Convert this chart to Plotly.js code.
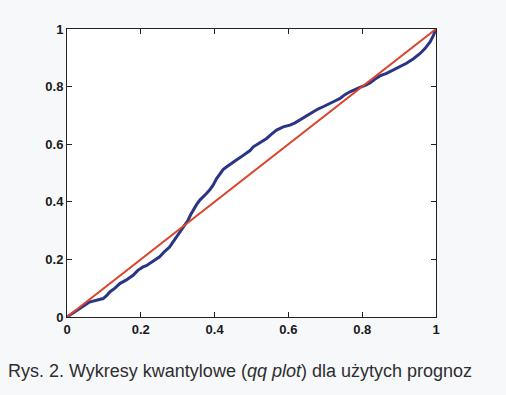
<!DOCTYPE html>
<html>
<head>
<meta charset="utf-8">
<script src="https://cdn.plot.ly/plotly-3.0.1.min.js"></script>
<style>html,body{margin:0;padding:0;background:#f7f8fa;}#chart{width:506px;height:395px;}</style>
</head>
<body>
<div id="chart"></div>
<script>
// Empirical quantiles (x) vs. model quantiles (y)
const qqX = [0, 0.015, 0.034, 0.048, 0.061, 0.080, 0.098, 0.108, 0.116, 0.130, 0.143, 0.160, 0.179, 0.192, 0.206, 0.215, 0.224, 0.238, 0.251, 0.265, 0.278, 0.288, 0.297, 0.306, 0.315, 0.322, 0.328, 0.335, 0.342, 0.351, 0.360, 0.369, 0.378, 0.387, 0.396, 0.405, 0.414, 0.423, 0.432, 0.445, 0.459, 0.472, 0.486, 0.496, 0.505, 0.523, 0.541, 0.555, 0.568, 0.586, 0.604, 0.618, 0.631, 0.649, 0.667, 0.680, 0.694, 0.703, 0.712, 0.726, 0.740, 0.753, 0.767, 0.780, 0.794, 0.808, 0.821, 0.835, 0.848, 0.866, 0.884, 0.902, 0.920, 0.938, 0.957, 0.970, 0.984, 0.992, 1];
const qqY = [0, 0.013, 0.029, 0.042, 0.052, 0.058, 0.064, 0.075, 0.087, 0.100, 0.116, 0.128, 0.145, 0.162, 0.174, 0.178, 0.185, 0.198, 0.209, 0.228, 0.243, 0.262, 0.278, 0.297, 0.313, 0.322, 0.336, 0.355, 0.371, 0.390, 0.406, 0.416, 0.429, 0.442, 0.458, 0.480, 0.498, 0.512, 0.521, 0.534, 0.545, 0.556, 0.568, 0.578, 0.591, 0.607, 0.620, 0.636, 0.649, 0.660, 0.666, 0.674, 0.684, 0.700, 0.713, 0.722, 0.730, 0.735, 0.742, 0.750, 0.759, 0.772, 0.782, 0.790, 0.797, 0.804, 0.813, 0.826, 0.837, 0.846, 0.857, 0.868, 0.881, 0.896, 0.915, 0.932, 0.955, 0.975, 1];
const refX = [0, 1];
const refY = [0, 1];
const tickVals = [0, 0.2, 0.4, 0.6, 0.8, 1];
const tickText = ['0', '0.2', '0.4', '0.6', '0.8', '1'];
const caption = 'Rys. 2. Wykresy kwantylowe (<i>qq plot</i>) dla użytych prognoz';

const axisCommon = {
  range: [0, 1], tickvals: tickVals, ticktext: tickText,
  ticks: 'inside', ticklen: 5, tickcolor: '#222', tickwidth: 1,
  showline: true, linecolor: '#222', linewidth: 1, mirror: 'allticks',
  showgrid: false, zeroline: false, fixedrange: true,
  tickfont: {family: 'Liberation Sans, Arial, sans-serif', size: 13, color: '#1a1a1a', weight: 'bold'}
};

Plotly.newPlot('chart', [
  {x: qqX, y: qqY, type: 'scatter', mode: 'lines', line: {color: '#2b3585', width: 3}, hoverinfo: 'skip'},
  {x: refX, y: refY, type: 'scatter', mode: 'lines', line: {color: '#d9452e', width: 2}, hoverinfo: 'skip'}
], {
  width: 506, height: 395,
  margin: {l: 67, r: 70, t: 29, b: 78},
  paper_bgcolor: '#f7f8fa', plot_bgcolor: '#ffffff',
  showlegend: false,
  xaxis: Object.assign({}, axisCommon),
  yaxis: Object.assign({}, axisCommon),
  annotations: [{
    text: caption, xref: 'paper', yref: 'paper', x: -0.166, y: -0.1875,
    xanchor: 'left', yanchor: 'middle', showarrow: false,
    font: {family: 'Liberation Sans, Arial, sans-serif', size: 18, color: '#2e2e2e'}
  }]
}, {staticPlot: true});
</script>
</body>
</html>
